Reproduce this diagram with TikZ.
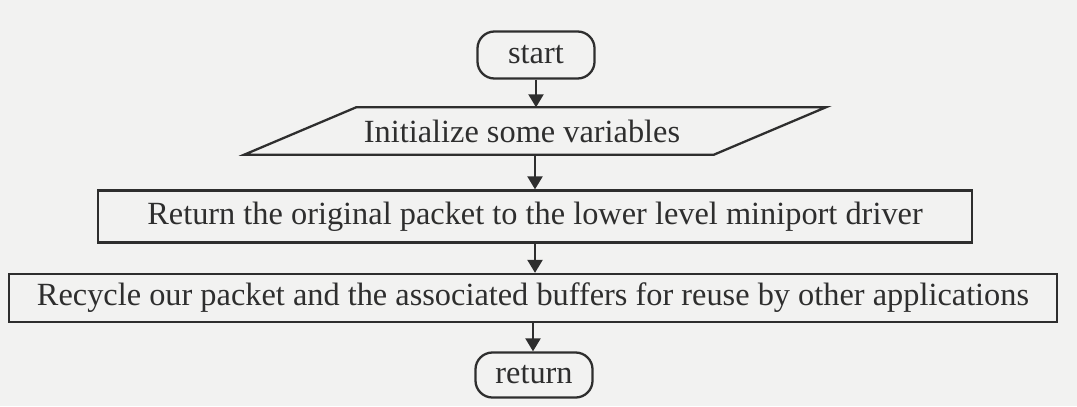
\documentclass[tikz,border=0pt]{standalone}
\usepackage{fontspec}
\setmainfont{Liberation Serif}
\usetikzlibrary{arrows.meta}
\definecolor{ink}{HTML}{2E2E2E}
\definecolor{paper}{HTML}{F2F2F1}
\begin{document}
\begin{tikzpicture}[x=0.01cm,y=-0.01cm,
  every node/.style={font=\fontsize{9.2}{11}\selectfont, text=ink, inner sep=0pt},
  terminal/.style={draw=ink, line width=0.65pt, rounded corners=0.17cm, minimum width=1.17cm, minimum height=0.47cm},
  procbox/.style={draw=ink, line width=0.65pt, minimum height=0.52cm},
  iobody/.style={minimum width=4.68cm, minimum height=0.46cm},
  outline/.style={draw=ink, line width=0.65pt, line join=miter},
  flow/.style={draw=ink, line width=0.65pt, -{Triangle[length=0.13cm,width=0.15cm]}}]
\useasboundingbox[fill=paper] (0,0) rectangle (1077,406);
\node[terminal] (start) at (536,55) {start};
\node[iobody] (init) at (535,131) {Initialize some variables\hspace*{0.26cm}};
\draw[outline] ([xshift=0.56cm]init.north west) -- ([xshift=0.56cm]init.north east)
  -- ([xshift=-0.56cm]init.south east) -- ([xshift=-0.56cm]init.south west) -- cycle;
\node[procbox, minimum width=8.74cm] (ret) at (535,216.5) {Return the original packet to the lower level miniport driver};
\node[procbox, minimum width=10.48cm, minimum height=0.48cm] (rec) at (533,298) {Recycle our packet and the associated buffers for reuse by other applications};
\node[terminal, minimum height=0.45cm] (end) at (534,375) {return};
\draw[flow] (start.south) -- (start.south |- init.north);
\draw[flow] (init.south) -- (init.south |- ret.north);
\draw[flow] (ret.south) -- (ret.south |- rec.north);
\draw[flow] (rec.south) -- (rec.south |- end.north);
\end{tikzpicture}
\end{document}
